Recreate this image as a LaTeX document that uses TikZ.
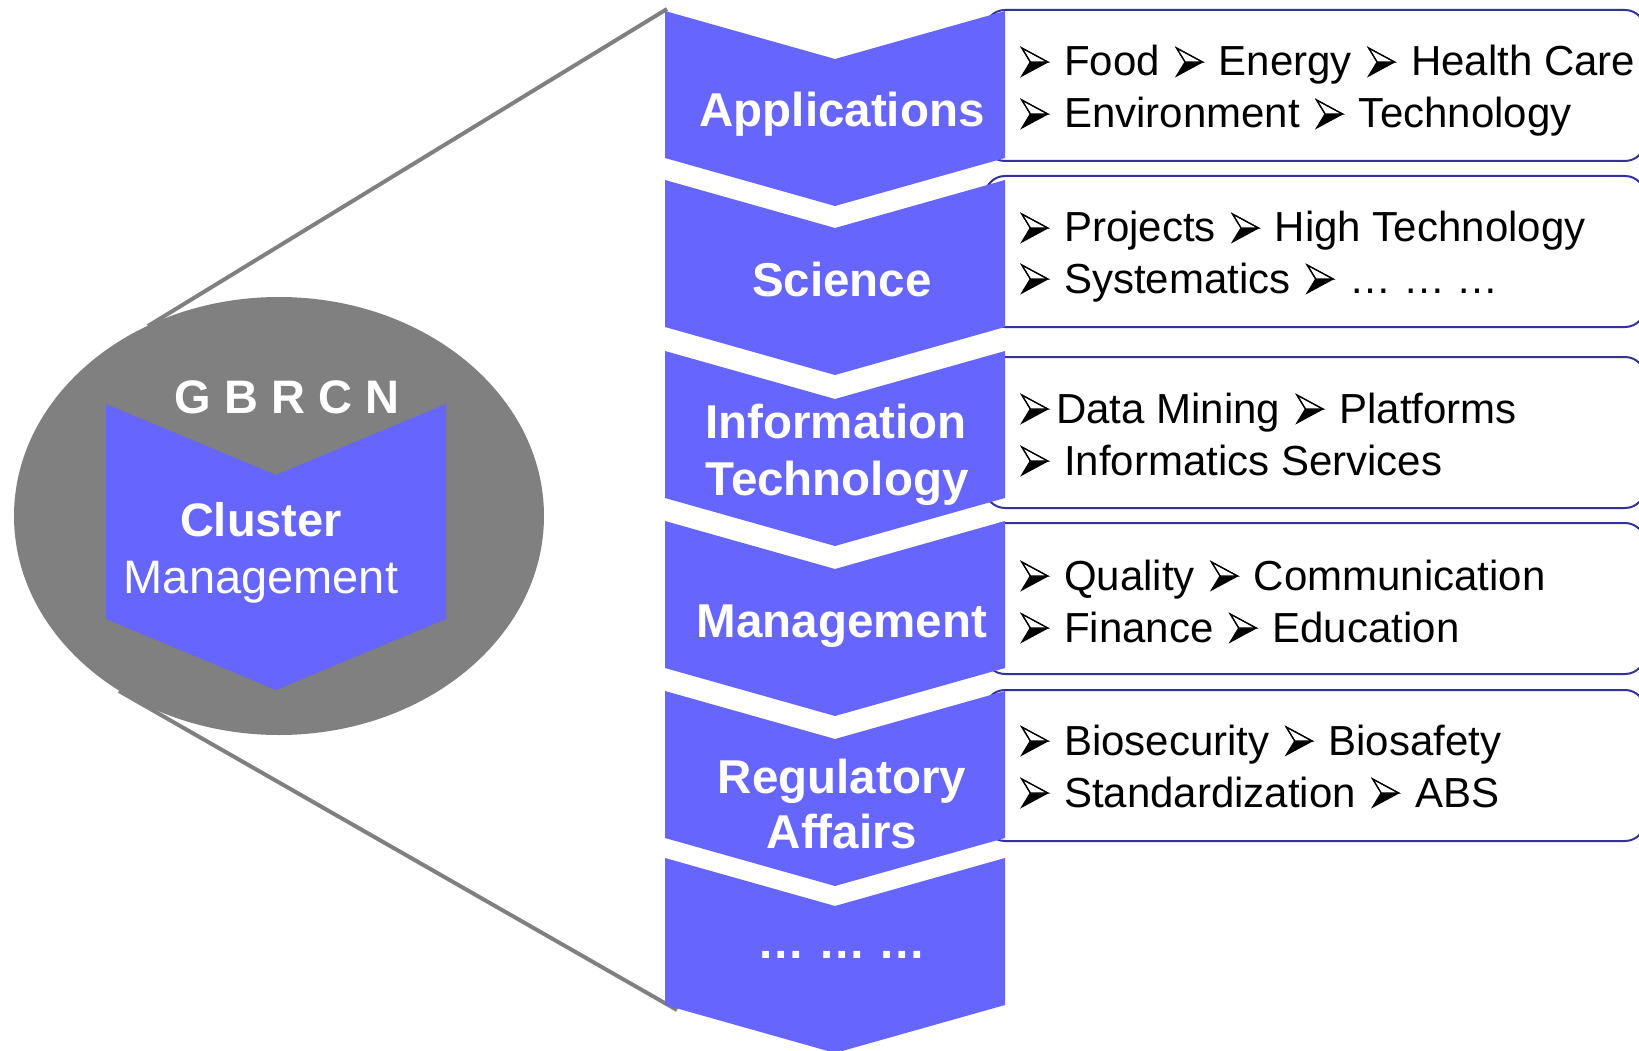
\documentclass[tikz,border=0pt]{standalone}
\usepackage{fontspec}
\setmainfont{Liberation Sans}
\definecolor{chev}{HTML}{6666FF}
\definecolor{ring}{HTML}{808080}
\definecolor{boxline}{HTML}{333399}
\tikzset{
  chevron/.style={fill=chev, draw=none},
  itembox/.style={draw=boxline, line width=2pt, fill=white, rounded corners=20pt},
  chevlabel/.style={text=white, font=\fontsize{47.5}{56}\selectfont\bfseries, anchor=base, inner sep=0pt},
  itemtext/.style={text=black, font=\fontsize{42}{50}\selectfont, anchor=base west, inner sep=0pt},
  zoomline/.style={draw=ring, line width=4pt},
  ringtext/.style={text=white, font=\fontsize{47}{56}\selectfont, anchor=base, inner sep=0pt},
}
\newcommand\arrowglyph{\tikz[x=1pt,y=1pt,baseline=0pt]{%
  \fill[black] (0,0) -- (26,14) -- (8.5,14) -- cycle;
  \draw[black, line width=1.2pt, line join=miter, fill=white] (0,28) -- (26,14) -- (8.5,14) -- cycle;
  \draw[black, line width=1.2pt, line join=miter] (0,0) -- (26,14) -- (0,28) -- (8.5,14) -- cycle;}}
\newcommand\ar{\makebox[43pt][l]{\arrowglyph}}
\newcommand\arn{\makebox[35pt][l]{\arrowglyph}}
\newcommand\gp{\hspace{16pt}}
\newcommand\chevshape[1]{%
  \fill[chevron] (665,#1) -- (835,{#1+48}) -- (1005,#1) -- (1005,{#1+147})
    -- (835,{#1+195}) -- (665,{#1+147}) -- cycle;}
\begin{document}
\begin{tikzpicture}[x=1pt,y=-1pt]
\useasboundingbox (0,0) rectangle (1639,1051);
\clip (0,0) rectangle (1639,1051);
% zoom lines
\coordinate (ringTop) at (148,326);
\coordinate (ringBot) at (119,691);
\coordinate (chevTop) at (667,9);
\coordinate (chevBot) at (677,1010);
\draw[zoomline] (ringTop) -- (chevTop);
\draw[zoomline] (ringBot) -- (chevBot);
% ring
\fill[ring] (279,516) ellipse [x radius=265, y radius=219];
\fill[chevron] (106,404) -- (276,475) -- (446,404) -- (446,619) -- (276,690) -- (106,619) -- cycle;
\node[ringtext, font=\fontsize{47}{56}\selectfont\bfseries] (gbrcn) at (287,413) {G B R C N};
\node[ringtext, font=\fontsize{47}{56}\selectfont\bfseries] (cluster) at (261,536) {Cluster};
\node[ringtext] (mgmtc) at (261,593) {Management};
% item boxes
\draw[itembox] (985,10) rectangle (1645,161);
\draw[itembox] (985,176) rectangle (1645,327);
\draw[itembox] (985,357) rectangle (1645,508);
\draw[itembox] (985,523) rectangle (1645,674);
\draw[itembox] (985,690) rectangle (1645,841);
% chevrons
\chevshape{11}
\chevshape{180}
\chevshape{351}
\chevshape{521}
\chevshape{691}
\chevshape{858}
% chevron labels
\node[chevlabel] (app) at (842,127) {Applications};
\node[chevlabel] (sci) at (842,297) {Science};
\node[chevlabel] (itA) at (836,438) {Information};
\node[chevlabel] (itB) at (837,495) {Technology};
\node[chevlabel] (man) at (842,637) {Management};
\node[chevlabel] (raA) at (842,793) {Regulatory};
\node[chevlabel] (raB) at (842,848) {Affairs};
\node[chevlabel] (more) at (842,958) {… … …};
% item texts
\node[itemtext] (t1a) at (1021,76) {\ar Food\gp\ar Energy\gp\ar Health Care};
\node[itemtext] (t1b) at (1021,128) {\ar Environment\gp\ar Technology};
\node[itemtext] (t2a) at (1021,242) {\ar Projects\gp\ar High Technology};
\node[itemtext] (t2b) at (1021,293) {\ar Systematics\gp\ar … … …};
\node[itemtext] (t3a) at (1021,423) {\arn Data Mining\gp\ar Platforms};
\node[itemtext] (t3b) at (1021,475) {\ar Informatics Services};
\node[itemtext] (t4a) at (1021,590) {\ar Quality\gp\ar Communication};
\node[itemtext] (t4b) at (1021,642) {\ar Finance\gp\ar Education};
\node[itemtext] (t5a) at (1021,755) {\ar Biosecurity\gp\ar Biosafety};
\node[itemtext] (t5b) at (1021,807) {\ar Standardization\gp\ar ABS};
\end{tikzpicture}
\end{document}
